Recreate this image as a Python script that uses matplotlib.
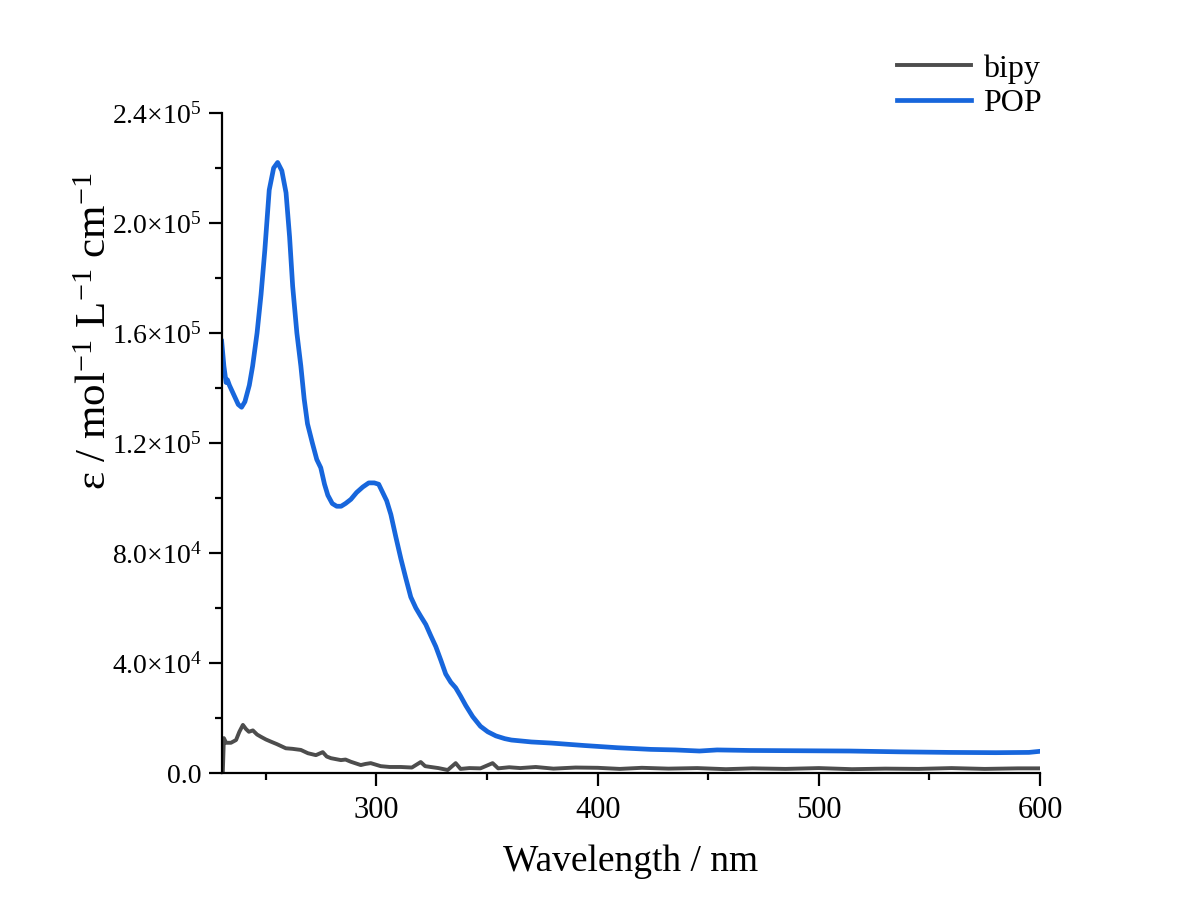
import matplotlib
matplotlib.use("Agg")
import matplotlib.pyplot as plt
from matplotlib.ticker import MultipleLocator, FuncFormatter

plt.rcParams['font.family'] = ['Liberation Serif', 'DejaVu Serif']
plt.rcParams['mathtext.fontset'] = 'custom'
plt.rcParams['mathtext.rm'] = 'Liberation Serif'
plt.rcParams['mathtext.it'] = 'Liberation Serif:italic'

# absorption spectra (wavelength in nm, epsilon in mol-1 L-1 cm-1)
pop_wl = [230, 231, 232, 232.6, 233.5, 235.5, 237.5, 239, 240.5, 242.5, 244, 246,
          247.8, 249.5, 251.5, 253.5, 255.3, 257.2, 259.1, 260.7, 262.1, 264, 265.8,
          267.3, 268.8, 271, 273, 274.8, 276.5, 278, 280, 282, 284, 286, 288.4, 291,
          293.8, 296.5, 299, 301, 302.8, 304.6, 306.5, 308.7, 311, 313.2, 315.5, 317.8,
          320, 322.3, 324.5, 326.8, 329.1, 331.3, 333.6, 335.8, 338, 340.4, 343.5, 347,
          350.3, 354, 358, 361, 370, 379, 394, 409, 424, 435, 446, 454, 469, 492, 514,
          537, 559, 580, 595, 600]
pop_eps = [1.57e5, 1.48e5, 1.42e5, 1.43e5, 1.41e5, 1.375e5, 1.34e5, 1.33e5, 1.35e5,
           1.41e5, 1.48e5, 1.6e5, 1.74e5, 1.9e5, 2.12e5, 2.2e5, 2.22e5, 2.19e5, 2.11e5,
           1.95e5, 1.77e5, 1.6e5, 1.48e5, 1.36e5, 1.27e5, 1.2e5, 1.14e5, 1.11e5, 1.05e5,
           1.01e5, 9.8e4, 9.7e4, 9.7e4, 9.8e4, 9.95e4, 1.02e5, 1.04e5, 1.055e5, 1.055e5,
           1.05e5, 1.02e5, 9.9e4, 9.4e4, 8.6e4, 7.8e4, 7.1e4, 6.4e4, 6.0e4, 5.7e4, 5.4e4,
           5.0e4, 4.6e4, 4.1e4, 3.6e4, 3.3e4, 3.1e4, 2.8e4, 2.45e4, 2.05e4, 1.7e4, 1.5e4,
           1.35e4, 1.25e4, 1.2e4, 1.13e4, 1.09e4, 1.0e4, 9.2e3, 8.6e3, 8.4e3, 8.0e3,
           8.4e3, 8.2e3, 8.1e3, 8.0e3, 7.7e3, 7.5e3, 7.4e3, 7.5e3, 7.9e3]

bipy_wl = [230.5, 231, 232, 234.2, 236.5, 238, 239.6, 241, 242.3, 244.1, 246, 247.7,
           250, 252.3, 255, 259, 262, 265.8, 269, 272.6, 275.7, 277.5, 279.4, 283.9,
           286, 288.4, 292.9, 295, 297.4, 301.9, 306, 311, 316, 320, 322, 324.5, 328,
           332.2, 335.8, 338, 342, 347, 352.5, 355, 360, 365, 372, 380, 390, 400, 410,
           420, 432, 445, 458, 470, 485, 500, 515, 530, 545, 560, 575, 590, 600]
bipy_eps = [0, 1.27e4, 1.1e4, 1.1e4, 1.2e4, 1.5e4, 1.75e4, 1.6e4, 1.5e4, 1.55e4, 1.4e4,
            1.32e4, 1.22e4, 1.14e4, 1.05e4, 9.0e3, 8.8e3, 8.4e3, 7.2e3, 6.5e3, 7.6e3,
            6.0e3, 5.4e3, 4.7e3, 4.9e3, 4.1e3, 2.9e3, 3.3e3, 3.6e3, 2.5e3, 2.2e3, 2.2e3,
            2.0e3, 4.0e3, 2.5e3, 2.2e3, 1.8e3, 1.1e3, 3.6e3, 1.5e3, 1.8e3, 1.7e3, 3.6e3,
            1.7e3, 2.1e3, 1.8e3, 2.2e3, 1.6e3, 2.0e3, 1.9e3, 1.5e3, 1.9e3, 1.6e3, 1.8e3,
            1.4e3, 1.7e3, 1.5e3, 1.8e3, 1.4e3, 1.6e3, 1.5e3, 1.8e3, 1.5e3, 1.7e3, 1.7e3]

fig = plt.figure(figsize=(11.95, 9.17), dpi=100)
ax = fig.add_axes([0.1855, 0.157, 0.6848, 0.7198])

ax.plot(bipy_wl, bipy_eps, color='#4d4d4d', lw=2.8, label='bipy')
ax.plot(pop_wl, pop_eps, color='#1766dc', lw=3.4, label='POP')

ax.set_xlim(230, 600)
ax.set_ylim(0, 2.4e5)
ax.spines['top'].set_visible(False)
ax.spines['right'].set_visible(False)
for s in ('left', 'bottom'):
    ax.spines[s].set_linewidth(1.6)

ax.xaxis.set_major_locator(MultipleLocator(100))
ax.xaxis.set_minor_locator(MultipleLocator(50))
ax.yaxis.set_major_locator(MultipleLocator(4e4))
ax.yaxis.set_minor_locator(MultipleLocator(2e4))


def sci(v, pos):
    if v == 0:
        return '0.0'
    exp = len(str(int(v))) - 1
    return '%.1f×10$^{%d}$' % (v / 10 ** exp, exp)


ax.yaxis.set_major_formatter(FuncFormatter(sci))
ax.tick_params(which='major', direction='out', length=9.5, width=1.6, labelsize=20, pad=5)
ax.tick_params(axis='x', which='major', labelsize=22, pad=7)
ax.tick_params(which='minor', direction='out', length=5, width=1.6)

ax.set_xlabel('Wavelength / nm', fontsize=27, labelpad=14)
ax.set_ylabel('ε / mol$^{-1}$ L$^{-1}$ cm$^{-1}$', fontsize=31)
ax.yaxis.set_label_coords(-0.13, 0.67)

ax.legend(loc='upper left', bbox_to_anchor=(0.74, 0.955), bbox_transform=fig.transFigure,
          frameon=False, fontsize=23, handlelength=2.3, handletextpad=0.4,
          labelspacing=0.15, borderaxespad=0)

fig.savefig('out.png', dpi=100, facecolor='white')
